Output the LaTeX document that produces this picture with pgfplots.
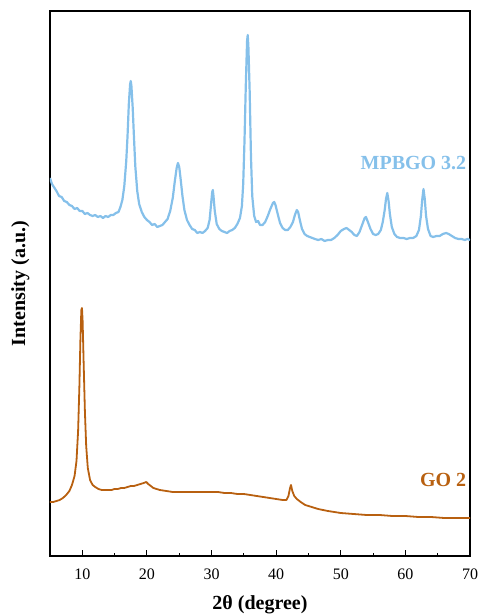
\documentclass[border=0pt]{standalone}
\usepackage{fontspec}
\setmainfont{Liberation Serif}
\usepackage{pgfplots}
\pgfplotsset{compat=1.18}

\definecolor{mpbgo}{RGB}{133,192,234}
\definecolor{gotwo}{RGB}{184,96,16}

\pgfplotstableread{
x y
5.0 378
5.3 372
5.6 369
6.0 365
6.4 360
6.8 359
7.2 355
7.6 354
8.0 351
8.4 350
8.8 347
9.2 348
9.6 345
10.0 345
10.4 342
10.8 343
11.2 341
11.6 340
12.0 341
12.4 339
12.8 340
13.2 338
13.6 340
14.0 339
14.4 341
14.8 341
15.2 343
15.6 344
15.9 349
16.2 356
16.5 370
16.8 395
17.0 420
17.2 452
17.4 472
17.5 475
17.6 470
17.8 448
18.0 418
18.2 390
18.5 365
18.8 352
19.2 344
19.6 339
20.0 336
20.4 334
20.8 331
21.2 332
21.6 329
22.0 330
22.4 331
22.8 334
23.2 337
23.6 345
24.0 358
24.3 374
24.6 388
24.8 393
25.0 389
25.2 378
25.5 360
25.8 346
26.2 336
26.6 331
27.0 327
27.4 326
27.8 323
28.2 324
28.6 323
29.0 325
29.4 328
29.7 336
29.9 350
30.1 364
30.2 366
30.3 360
30.5 345
30.8 332
31.2 327
31.6 325
32.0 324
32.4 323
32.8 325
33.2 326
33.6 328
34.0 332
34.4 338
34.7 350
34.9 372
35.1 415
35.3 470
35.5 515
35.6 521
35.7 510
35.9 465
36.1 400
36.3 360
36.6 340
36.9 334
37.2 335
37.5 331
37.9 331
38.3 334
38.7 340
39.1 347
39.5 353
39.7 354
39.9 351
40.2 343
40.6 333
41.0 328
41.4 326
41.8 326
42.2 329
42.6 334
42.9 341
43.2 346
43.4 344
43.7 335
44.0 327
44.4 322
44.8 320
45.2 319
45.6 318
46.0 317
46.5 316
47.0 317
47.5 315
48.0 316
48.5 316
49.0 318
49.5 321
50.0 325
50.5 327
50.9 328
51.3 326
51.7 324
52.1 321
52.5 320
52.9 324
53.3 331
53.7 338
53.9 339
54.2 334
54.6 327
55.0 322
55.4 321
55.8 322
56.2 326
56.5 334
56.8 346
57.0 357
57.2 363
57.4 355
57.6 342
57.9 329
58.3 322
58.7 319
59.2 318
59.7 318
60.2 317
60.7 318
61.2 318
61.7 320
62.1 326
62.4 340
62.6 356
62.8 367
63.0 357
63.2 340
63.5 327
63.9 320
64.3 319
64.8 320
65.3 320
65.8 322
66.3 323
66.7 322
67.2 320
67.7 318
68.2 317
68.7 317
69.2 316
69.6 317
70.0 316
}\mpbgo

\pgfplotstableread{
x y
5.0 54
5.5 54
6.0 55
6.5 56
7.0 58
7.5 61
8.0 65
8.4 71
8.8 80
9.1 95
9.35 125
9.55 170
9.7 215
9.85 246
9.95 248
10.05 235
10.2 195
10.4 145
10.6 110
10.85 88
11.2 76
11.6 71
12.0 69
12.5 67
13.0 66
13.5 66
14.0 66
14.5 66
15.0 67
15.5 67
16.0 68
16.5 68
17.0 69
17.5 70
18.0 70
18.5 71
19.0 72
19.5 73
19.9 74
20.2 72
20.6 70
21.0 68
21.5 67
22.0 66
23.0 65
24.0 64
25.0 64
26.0 64
27.0 64
28.0 64
29.0 64
30.0 64
31.0 64
32.0 63
33.0 63
34.0 62
35.0 62
36.0 61
37.0 60
38.0 59
39.0 58
40.0 57
41.0 56
41.6 56
41.9 60
42.15 68
42.3 71
42.5 65
42.8 60
43.2 57
43.8 54
44.5 51
45.5 49
46.5 47
48.0 45
50.0 43
52.0 42
54.0 41
56.0 41
58.0 40
60.0 40
62.0 39
64.0 39
66.0 38
68.0 38
70.0 38
}\gotwo

\begin{document}
\begin{tikzpicture}
\useasboundingbox (-50pt,-59pt) rectangle (432pt,556pt);
\begin{axis}[
  scale only axis,
  width=420pt, height=545pt,
  xmin=5, xmax=70, ymin=0, ymax=545,
  xtick={10,20,...,70},
  minor x tick num=1,
  xtick pos=lower,
  ytick=\empty,
  tick align=inside,
  major tick length=6pt,
  minor tick length=3.5pt,
  every tick/.style={black, line width=1pt},
  axis line style={black, line width=1.5pt},
  /pgf/number format/assume math mode=true,
  tick label style={font=\fontsize{16}{18}\selectfont},
  xticklabel style={yshift=-9pt},
  xlabel={\textbf{2θ (degree)}},
  ylabel={\textbf{Intensity (a.u.)}},
  label style={font=\fontsize{20}{22}\selectfont},
  xlabel style={yshift=-9pt},
  ylabel style={yshift=17pt},
  clip=true,
]
\addplot[mpbgo, line width=2.2pt, line join=round] table[x=x, y=y] {\mpbgo};
\addplot[gotwo, line width=1.8pt, line join=round] table[x=x, y=y] {\gotwo};
\node[anchor=east, text=mpbgo, font=\bfseries\fontsize{20}{22}\selectfont, inner sep=1pt]
  at (axis cs:69.6,393) {MPBGO 3.2};
\node[anchor=east, text=gotwo, font=\bfseries\fontsize{20}{22}\selectfont, inner sep=1pt]
  at (axis cs:69.6,76) {GO 2};
\end{axis}
\end{tikzpicture}
\end{document}
